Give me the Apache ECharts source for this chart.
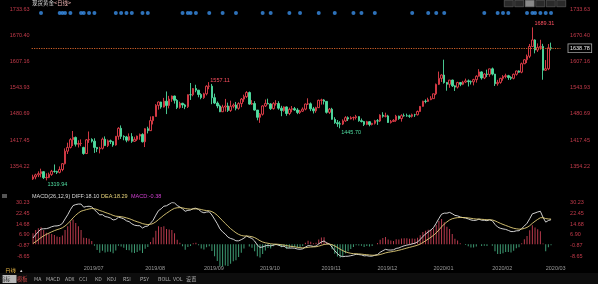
<!DOCTYPE html>
<html><head><meta charset="utf-8">
<script src="https://cdn.jsdelivr.net/npm/echarts@6/dist/echarts.min.js"></script>
<style>html,body{margin:0;padding:0;background:#000;overflow:hidden}#c{width:598px;height:284px}</style>
</head><body><div id="c"></div>
<script>
// ---------- categories: trading days 2019/06/04 .. 2020/03/04 (+3 blank days of right padding)
function tradingDays(start, end, skip) {
  const out = []; const d = new Date(start + 'T00:00:00Z'); const e = new Date(end + 'T00:00:00Z');
  while (d <= e) { const w = d.getUTCDay(); const s = d.toISOString().slice(0, 10);
    if (w !== 0 && w !== 6 && skip.indexOf(s) < 0) out.push(s.replace(/-/g, '/'));
    d.setUTCDate(d.getUTCDate() + 1); }
  return out;
}
const categories = tradingDays('2019-06-04', '2020-03-09', ['2019-12-25', '2020-01-01']);

// ---------- OHLC (spot gold, daily)
const opens = [
 1323.5,1328.4,1333.3,1336.2,1341.0,1326.5,1327.1,1334.4,1341.9,1341.5,1339.4,1346.2,1360.3,1390.5,1399.6,1418.3,1423.7,1407.2,1409.1,
 1399.6,1384.8,1417.9,1418.8,1414.7,1399.6,1396.0,1397.5,1419.4,1403.9,1415.6,1413.6,1405.4,1426.4,1445.7,1426.2,1424.9,1417.0,1425.7,1414.3,1419.1,1426.9,1430.8,
 1413.3,1444.7,1440.0,1464.2,1474.2,1501.0,1509.2,1497.0,1511.1,1500.8,1516.2,1523.6,1513.2,1496.0,1506.0,1502.1,1497.9,1526.8,1526.7,1541.7,1537.7,1527.3,
 1519.8,1529.0,1547.2,1547.4,1519.6,1506.6,1499.6,1485.6,1497.0,1499.6,1488.8,1498.8,1501.8,1493.9,1505.3,1516.2,1522.2,1532.0,1504.1,1505.6,1489.7,
 1472.2,1479.6,1499.7,1505.8,1504.5,1493.2,1505.2,1505.5,1494.3,1488.6,1497.3,1481.4,1491.4,1493.1,1489.9,1483.7,1487.0,1491.9,1504.3,1504.8,1492.6,1487.9,1495.5,
 1513.2,1514.1,1510.7,1484.2,1491.8,1467.3,1459.3,1456.5,1455.9,1463.5,1471.4,1468.3,1471.1,1471.7,1473.9,1464.0,1462.0,1455.1,1461.7,1454.9,1457.7,
 1463.8,1463.2,1477.6,1474.7,1475.6,1459.7,1462.3,1464.9,1475.0,1469.2,1476.2,1476.0,1475.7,1474.6,1478.5,1478.4,1486.2,1498.6,1511.1,1510.5,1514.8,
 1517.3,1528.9,1551.8,1566.2,1574.2,1556.1,1551.9,1562.1,1548.1,1545.1,1556.1,1551.9,1557.3,1560.2,1558.2,1557.7,1563.1,1571.3,1581.8,1567.1,1576.6,1575.7,
 1589.2,1576.5,1553.3,1556.5,1566.2,1570.6,1572.7,1568.3,1566.4,1576.0,1584.1,1581.1,1601.5,1611.1,1619.6,1643.2,1658.9,1634.6,1640.9,1643.3,
 1585.7,1589.4,1639.9
];
const highs = [
 1333.7,1336.1,1341.8,1348.2,1342.5,1336.9,1338.6,1345.3,1358.4,1343.2,1353.6,1361.4,1397.3,1411.0,1421.8,1439.2,1425.7,1416.7,1418.9,
 1401.0,1419.6,1438.0,1421.6,1421.6,1400.6,1401.0,1423.2,1426.1,1418.6,1418.4,1414.4,1427.1,1448.3,1452.6,1428.8,1427.4,1433.3,1434.0,1425.2,1428.0,1433.0,1433.8,
 1445.8,1449.4,1474.2,1474.7,1503.9,1510.6,1509.8,1519.1,1534.6,1524.0,1524.6,1524.5,1516.2,1509.9,1507.3,1504.7,1527.4,1555.0,1542.8,1550.8,1538.4,1530.5,
 1531.4,1549.6,1557.11,1552.7,1529.4,1510.5,1502.8,1502.4,1516.6,1507.6,1512.3,1505.7,1509.3,1508.5,1518.8,1526.9,1535.4,1534.4,1513.7,1511.2,1489.9,
 1482.5,1501.4,1515.2,1517.2,1506.3,1508.8,1513.5,1511.0,1500.0,1498.7,1498.5,1495.6,1499.5,1497.2,1494.3,1490.1,1496.1,1505.3,1518.1,1508.1,1497.3,1497.6,1515.0,
 1517.0,1516.1,1511.5,1494.7,1495.1,1472.5,1465.7,1462.8,1467.3,1474.9,1474.4,1474.7,1474.0,1478.1,1474.6,1469.3,1463.5,1463.7,1463.0,1458.7,1466.0,
 1468.0,1479.4,1484.5,1483.4,1478.3,1465.9,1467.9,1478.2,1476.2,1479.6,1481.3,1481.0,1478.9,1481.1,1480.6,1488.6,1499.5,1512.1,1515.5,1519.5,1523.2,
 1529.3,1553.6,1582.6,1576.0,1611.3,1557.6,1562.4,1563.1,1549.3,1558.0,1557.4,1560.3,1565.6,1563.5,1561.0,1565.3,1573.7,1588.4,1583.2,1578.5,1587.2,1589.4,
 1592.3,1576.9,1562.7,1567.7,1574.1,1577.5,1574.7,1571.3,1577.9,1584.8,1585.5,1604.3,1612.6,1623.7,1649.3,1689.31,1660.6,1650.6,1659.3,1649.6,
 1610.4,1649.0,1652.5
];
const lows = [
 1321.2,1322.7,1327.9,1327.6,1323.2,1319.94,1325.3,1331.0,1338.5,1335.3,1336.9,1342.0,1358.4,1383.7,1397.0,1402.9,1401.8,1399.4,1402.5,
 1381.9,1383.5,1410.5,1411.2,1386.3,1388.2,1385.1,1394.5,1403.0,1400.4,1407.7,1401.1,1403.8,1418.0,1420.0,1416.8,1412.0,1414.2,1410.6,1412.8,1415.2,1418.0,1411.4,
 1400.4,1433.3,1439.1,1455.0,1473.8,1490.7,1493.0,1495.9,1480.0,1493.7,1509.6,1505.4,1492.1,1493.1,1494.7,1491.9,1494.7,1514.1,1523.0,1532.6,1520.5,1515.8,
 1516.7,1525.1,1540.0,1503.9,1504.2,1494.1,1484.8,1485.1,1486.1,1485.1,1485.3,1494.0,1489.0,1490.6,1496.7,1509.5,1519.0,1502.6,1502.1,1488.3,1464.9,
 1458.8,1476.4,1497.1,1503.6,1490.0,1490.9,1500.5,1490.5,1474.9,1485.7,1475.9,1477.5,1484.4,1487.8,1479.9,1480.1,1485.2,1489.1,1501.9,1487.1,1481.4,1483.2,1494.7,
 1502.9,1503.1,1481.2,1480.4,1466.6,1456.4,1449.2,1445.70,1453.5,1461.3,1463.3,1467.2,1464.8,1466.9,1461.6,1459.7,1451.2,1453.2,1450.5,1452.7,1454.8,
 1453.9,1460.8,1471.4,1472.0,1458.7,1457.2,1460.9,1461.3,1466.2,1461.8,1473.7,1473.6,1470.9,1471.6,1473.1,1476.6,1485.7,1497.8,1506.0,1509.4,1513.6,
 1517.3,1525.7,1550.1,1557.5,1553.5,1536.4,1543.4,1545.4,1535.8,1541.7,1547.3,1549.8,1554.8,1546.6,1551.4,1549.3,1556.0,1570.3,1563.1,1564.4,1569.2,1570.1,
 1573.3,1547.8,1548.5,1553.3,1560.6,1566.3,1562.6,1562.6,1563.9,1572.9,1579.6,1578.6,1600.6,1603.1,1615.1,1643.2,1626.6,1629.9,1635.3,1562.9,
 1584.5,1586.1,1633.6
];
const closes = [
 1328.4,1333.3,1336.2,1341.0,1326.5,1327.1,1334.4,1341.9,1341.5,1339.4,1346.2,1360.3,1390.5,1399.6,1418.3,1423.7,1407.2,1409.1,1409.2,
 1384.8,1417.9,1418.8,1414.7,1399.6,1396.0,1397.5,1419.4,1403.9,1415.6,1413.6,1405.4,1426.4,1445.7,1426.2,1424.9,1417.0,1425.7,1414.3,1419.1,1426.9,1430.8,1413.3,
 1444.7,1440.0,1464.2,1474.2,1501.0,1509.2,1497.0,1511.1,1500.8,1516.2,1523.6,1513.2,1496.0,1506.0,1502.1,1497.9,1526.8,1526.7,1541.7,1537.7,1527.3,1519.8,
 1529.0,1547.2,1547.4,1519.6,1506.6,1499.6,1485.6,1497.0,1499.6,1488.8,1498.8,1501.8,1493.9,1505.3,1516.2,1522.2,1532.0,1504.1,1505.6,1489.7,1472.2,
 1479.6,1499.7,1505.8,1504.5,1493.2,1505.2,1505.5,1494.3,1488.6,1497.3,1481.4,1491.4,1493.1,1489.9,1483.7,1487.0,1491.9,1504.3,1504.8,1492.6,1487.9,1495.5,1513.2,
 1514.1,1510.7,1484.2,1491.8,1467.3,1459.3,1456.5,1455.9,1463.5,1471.4,1468.3,1471.1,1471.7,1473.9,1464.0,1462.0,1455.1,1461.7,1454.9,1457.7,1463.8,
 1463.2,1477.6,1474.7,1475.6,1459.7,1462.3,1464.9,1475.0,1469.2,1476.2,1476.0,1475.7,1474.6,1478.5,1478.4,1486.2,1498.6,1511.1,1510.5,1514.8,1517.3,
 1528.9,1551.8,1566.2,1574.2,1556.1,1551.9,1562.1,1548.1,1545.1,1556.1,1551.9,1557.3,1560.2,1558.2,1557.7,1563.1,1571.3,1581.8,1567.1,1576.6,1575.7,1589.2,
 1576.5,1553.3,1556.5,1566.2,1570.6,1572.7,1568.3,1566.4,1576.0,1584.1,1581.1,1601.5,1611.1,1619.6,1643.2,1658.9,1634.6,1640.9,1643.3,1585.7,
 1589.4,1639.9,1638.78
];

// ---------- tick labels
const priceTicks = [1354.22, 1417.45, 1480.69, 1543.93, 1607.16, 1670.40, 1733.63];
const macdTicks = [-8.65, -0.87, 6.90, 14.68, 22.45, 30.23];
const macdLegend = { title: 'MACD(26,12,9)', diff: 'DIFF:18.10', dea: 'DEA:18.29', macd: 'MACD:-0.38' };

// ---------- event markers (blue dots on top row)
const eventDates = [
 '2019/06/07','2019/06/18','2019/06/19','2019/06/20','2019/06/24','2019/06/28','2019/07/01','2019/07/03','2019/07/05',
 '2019/07/17','2019/07/19','2019/07/23','2019/07/25','2019/07/31','2019/08/02','2019/08/21','2019/08/23','2019/08/26','2019/08/28',
 '2019/09/04','2019/09/11','2019/09/18','2019/10/02','2019/10/07','2019/10/16','2019/10/22','2019/10/31','2019/11/08',
 '2019/11/19','2019/11/22','2019/11/29',
 '2019/12/19','2019/12/30','2020/01/03','2020/01/08','2020/01/29','2020/02/05','2020/02/07','2020/02/11',
 '2020/02/20','2020/02/24','2020/02/25','2020/02/27','2020/03/02','2020/03/04'
];

// ---------- MACD(12,26,9) from the closes; EMA12/EMA26/DEA levels on the first day estimated from the panel
const EMA12_0 = 1298.0, EMA26_0 = 1293.5, DEA_0 = 0.5;
const diffArr = [], deaArr = [], macdArr = [];
(function () {
  let e12 = EMA12_0, e26 = EMA26_0, dea = DEA_0;
  for (let i = 0; i < closes.length; i++) {
    if (i > 0) { e12 = e12 * 11 / 13 + closes[i] * 2 / 13; e26 = e26 * 25 / 27 + closes[i] * 2 / 27; }
    const diff = e12 - e26;
    if (i > 0) dea = dea * 8 / 10 + diff * 2 / 10;
    diffArr.push(+diff.toFixed(3)); deaArr.push(+dea.toFixed(3)); macdArr.push(+(2 * (diff - dea)).toFixed(3));
  }
})();

const ohlc = closes.map((c, i) => [opens[i], c, lows[i], highs[i]]);
function argExt(arr, from, to, cmp) { let k = from; for (let i = from; i < to; i++) if (cmp(arr[i], arr[k])) k = i; return k; }
const iMax = argExt(highs, 0, highs.length, (a, b) => a > b);
const iMin = argExt(lows, 0, lows.length, (a, b) => a < b);
const iSwingHigh = argExt(highs, 0, 120, (a, b) => a > b);
const iSwingLow = argExt(lows, 60, lows.length, (a, b) => a < b);
const last = closes.length - 1;

const RED = '#e8404c', GREEN = '#4fdca0', LBL = '#c23a4a', FONT = 'Liberation Sans, Arial, sans-serif';
const G = { left: 31.67, right: 37.6 };
const firstOfMonth = (idx, val) => idx > 0 && idx <= last && val.slice(0, 7) !== categories[idx - 1].slice(0, 7);

const chart = echarts.init(document.getElementById('c'), null, { renderer: 'canvas' });
const yLbl = (extra) => Object.assign({ color: LBL, fontSize: 5.5, fontFamily: FONT, formatter: v => Number(v).toFixed(2) }, extra);
chart.setOption({
  backgroundColor: '#000',
  animation: false,
  grid: [
    { left: G.left, right: G.right, top: 9, height: 183.4 },
    { left: G.left, right: G.right, top: 202.7, height: 64 },
    { left: G.left, right: G.right, top: 10, height: 6 }
  ],
  xAxis: [
    { type: 'category', gridIndex: 0, data: categories, axisLine: { show: false }, axisTick: { show: false }, axisLabel: { show: false }, splitLine: { show: false } },
    { type: 'category', gridIndex: 1, data: categories, axisLine: { show: false }, axisTick: { show: false }, splitLine: { show: false },
      axisLabel: { interval: firstOfMonth, formatter: v => v.slice(0, 7), align: 'left', margin: -1.5, color: '#9a9a9a', fontSize: 5.5, fontFamily: FONT } },
    { type: 'category', gridIndex: 2, data: categories, show: false }
  ],
  yAxis: [
    { type: 'value', gridIndex: 0, position: 'left', min: 1290.98, max: 1733.63, splitLine: { show: false }, axisLine: { show: false }, axisTick: { show: false },
      axisLabel: yLbl({ customValues: priceTicks, margin: 2 }) },
    { type: 'value', gridIndex: 0, position: 'right', min: 1290.98, max: 1733.63, splitLine: { show: false }, axisLine: { show: false }, axisTick: { show: false },
      axisLabel: yLbl({ customValues: priceTicks, margin: 9.7 }) },
    { type: 'value', gridIndex: 1, position: 'left', min: -16.43, max: 30.23, splitLine: { show: false }, axisLine: { show: false }, axisTick: { show: false },
      axisLabel: yLbl({ customValues: macdTicks, margin: 2 }) },
    { type: 'value', gridIndex: 1, position: 'right', min: -16.43, max: 30.23, splitLine: { show: false }, axisLine: { show: false }, axisTick: { show: false },
      axisLabel: yLbl({ customValues: macdTicks, margin: 9.7 }) },
    { type: 'value', gridIndex: 2, min: 0, max: 1, show: false }
  ],
  series: [
    { type: 'candlestick', xAxisIndex: 0, yAxisIndex: 0, data: ohlc, barWidth: 2,
      itemStyle: { color: '#000', color0: GREEN, borderColor: RED, borderColor0: GREEN, borderWidth: 0.9 },
      markLine: { symbol: 'none', silent: true, animation: false,
        lineStyle: { color: '#d0602a', type: [1.2, 1.2], width: 1 },
        label: { position: 'end', distance: 8, formatter: p => Number(p.value).toFixed(2), color: '#eee', fontSize: 5.5, fontFamily: FONT,
          borderColor: '#aaa', borderWidth: 0.8, padding: [1.5, 1.5, 0.5, 1.5], backgroundColor: '#000' },
        data: [{ yAxis: closes[last] }] },
      markPoint: { symbol: 'circle', symbolSize: 0.1, silent: true, animation: false,
        label: { fontSize: 5.5, fontFamily: FONT, formatter: p => Number(p.value).toFixed(2) },
        data: [
          { coord: [categories[iMax], highs[iMax]], value: highs[iMax], label: { position: 'right', distance: 2, offset: [0, -4], color: '#ff5060' } },
          { coord: [categories[iSwingHigh], highs[iSwingHigh]], value: highs[iSwingHigh], label: { position: 'right', distance: 1, offset: [0, -2], color: '#ff5060' } },
          { coord: [categories[iSwingLow], lows[iSwingLow]], value: lows[iSwingLow], label: { position: 'right', distance: 1, offset: [0, 4], color: GREEN } },
          { coord: [categories[iMin], lows[iMin]], value: lows[iMin], label: { position: 'right', distance: 1, offset: [0, 4], color: GREEN } }
        ] } },
    { type: 'bar', xAxisIndex: 1, yAxisIndex: 2, data: macdArr, barWidth: 1,
      itemStyle: { color: p => p.value >= 0 ? '#b83a4c' : '#3e9c74' } },
    { type: 'line', xAxisIndex: 1, yAxisIndex: 2, data: diffArr, symbol: 'none', lineStyle: { color: '#e6e6e6', width: 0.9 } },
    { type: 'line', xAxisIndex: 1, yAxisIndex: 2, data: deaArr, symbol: 'none', lineStyle: { color: '#e3cf7a', width: 0.9 } },
    { type: 'scatter', xAxisIndex: 2, yAxisIndex: 4, data: eventDates.map(d => [d, 0.5]), symbolSize: 4, itemStyle: { color: '#3a8fe8' } }
  ],
  graphic: [
    { type: 'text', left: 32, top: 0.5, style: { text: '{a|现货黄金}{b|<日线>}', rich: {
        a: { fill: '#d8d8d8', fontSize: 5.5, fontFamily: 'Noto Sans CJK SC' }, b: { fill: '#e8b0b0', fontSize: 5.5, fontFamily: 'Noto Sans CJK SC' } } } },
    { type: 'group', left: 504, top: 0, children: [0, 1, 2, 3, 4, 5].map(k => ({ type: 'rect', shape: { x: k * 10.5, y: 0.5, width: 9, height: 6.5 },
        style: { fill: k === 2 ? '#888' : '#2a2a2a', stroke: '#777', lineWidth: 0.5 } })) },
    { type: 'rect', left: 2, top: 194, shape: { width: 5, height: 4 }, style: { fill: '#555' } },
    { type: 'text', left: 32, top: 193, style: { text: macdLegend.title + ' ' + macdLegend.diff, fill: '#d8d8d8', fontSize: 5.5, fontFamily: FONT } },
    { type: 'text', left: 101, top: 193, style: { text: macdLegend.dea, fill: '#e6d27a', fontSize: 5.5, fontFamily: FONT } },
    { type: 'text', left: 131, top: 193, style: { text: macdLegend.macd, fill: '#d040d0', fontSize: 5.5, fontFamily: FONT } },
    { type: 'text', left: 5, top: 264.5, style: { text: '{a|日线} {b|▲}', rich: {
        a: { fill: '#e8b848', fontSize: 5.5, fontFamily: 'Noto Sans CJK SC' }, b: { fill: '#ddd', fontSize: 4 } } } },
    { type: 'rect', left: 0, top: 273, shape: { width: 598, height: 11 }, style: { fill: '#0d0d0d' } },
    { type: 'rect', left: 2.5, top: 275, shape: { width: 14, height: 8 }, style: { fill: '#b8b8b8' } },
    { type: 'group', left: 0, top: 276, children: [
        ['指标', 4, '#222'], ['模板', 21, '#d24a4a'], ['MA', 38, '#aaa'], ['MACD', 50, '#aaa'], ['ADX', 69, '#aaa'], ['CCI', 83, '#aaa'],
        ['KD', 99, '#aaa'], ['KDJ', 111, '#aaa'], ['RSI', 127, '#aaa'], ['PSY', 144, '#aaa'], ['BOLL', 162, '#aaa'], ['VOL', 177, '#aaa'], ['设置', 190, '#aaa']
      ].map(t => ({ type: 'text', x: t[1], y: 0, style: { text: t[0], fill: t[2], fontSize: 5.2, fontFamily: 'Noto Sans CJK SC, ' + FONT } })) }
  ]
});
</script></body></html>
